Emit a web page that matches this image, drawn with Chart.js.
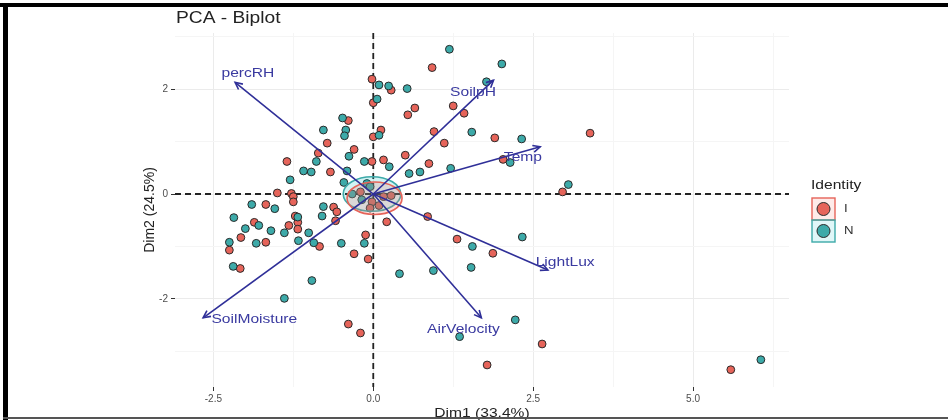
<!DOCTYPE html>
<html lang="en">
<head>
    <meta charset="UTF-8">
    <title>PCA - Biplot</title>
    <style>
        html, body { margin: 0; padding: 0; background: #fff; }
        #wrap { position: relative; width: 948px; height: 420px; }
    </style>
</head>
<body>
    <div id="wrap">
        <canvas id="myChart" width="948" height="420"></canvas>
    </div>

    <script src="https://cdn.jsdelivr.net/npm/chart.js"></script>
    <script>
        // Individuals, group I
        var iDim1 = [0.92, -0.02, 0.28, 0.00, 0.65, 0.54, 1.25, 1.42, -0.39, 0.12, 0.00, 0.95, -0.72, -0.30, -0.86, 1.11, 0.50, -1.35, -0.02, 0.16, 0.87, -0.67, -1.50, -1.28, -1.25, -1.25, -1.68, -0.62, -0.57, -1.22, 0.85, -0.20, 0.28, 0.16, -0.02, 0.09, -0.05, -0.59, -1.86, -1.32, -1.18, -1.18, -2.07, -2.25, -1.68, -0.84, -0.12, 0.21, -0.30, -0.08, -2.08, 1.31, -0.39, -0.20, 1.90, 3.39, 2.03, 2.96, 1.87, 2.64, 1.78, 5.59];
        var iDim2 = [2.41, 2.19, 1.98, 1.74, 1.64, 1.51, 1.68, 1.54, 1.40, 1.22, 1.09, 1.19, 0.97, 0.85, 0.78, 0.97, 0.74, 0.62, 0.62, 0.65, 0.58, 0.42, 0.02, 0.01, -0.05, -0.15, -0.20, -0.25, -0.34, -0.42, -0.43, 0.04, -0.03, -0.05, -0.15, -0.22, -0.27, -0.51, -0.54, -0.60, -0.54, -0.67, -0.83, -1.07, -0.92, -1.00, -0.78, -0.53, -1.14, -1.24, -1.42, -0.86, -2.48, -2.65, 1.07, 1.16, 0.66, 0.04, -1.13, -2.86, -3.26, -3.35];

        // Individuals, group N
        var nDim1 = [1.19, 0.09, 0.24, 0.53, 0.06, -0.48, -0.43, -0.45, -0.78, 0.09, 1.54, -0.38, -0.89, -0.14, 0.25, -1.09, -0.97, -0.41, 0.56, 0.73, 1.21, -1.30, -0.46, -1.90, -1.54, -2.18, -0.78, -0.80, -1.18, -0.33, -0.10, -0.05, -0.18, -1.79, -2.00, -1.60, -1.39, -1.01, -2.25, -1.83, -1.17, -0.93, -0.50, -0.14, -2.19, -0.96, 0.41, 0.94, 1.55, 1.53, -1.39, 1.35, 2.01, 1.77, 2.32, 2.14, 3.05, 2.33, 2.22, 6.06];
        var nDim2 = [2.76, 2.08, 2.06, 2.01, 1.81, 1.45, 1.22, 1.11, 1.22, 1.12, 1.18, 0.72, 0.62, 0.62, 0.52, 0.44, 0.42, 0.44, 0.39, 0.42, 0.49, 0.27, 0.22, -0.20, -0.28, -0.45, -0.24, -0.42, -0.44, 0.00, 0.20, 0.14, -0.11, -0.60, -0.66, -0.70, -0.74, -0.74, -0.92, -0.94, -0.89, -0.93, -0.94, -0.94, -1.38, -1.65, -1.52, -1.46, -1.00, -1.40, -1.99, -2.72, 2.48, 2.14, 1.05, 0.60, 0.18, -0.82, -2.40, -3.16];

        // Variable arrows
        var varNames = ['percRH', 'SoilpH', 'Temp', 'LightLux', 'AirVelocity', 'SoilMoisture'];
        var varDim1 = [-2.16, 1.88, 2.61, 2.73, 1.69, -2.66];
        var varDim2 = [2.13, 2.17, 0.90, -1.45, -2.36, -2.36];
        var labelDim1 = [-1.96, 1.56, 2.34, 3.00, 1.41, -1.86];
        var labelDim2 = [2.30, 1.94, 0.69, -1.30, -2.59, -2.40];

        // Concentration ellipses
        var groups = ['I', 'N'];
        var ellCx = [0.02, -0.02];
        var ellCy = [-0.08, 0.00];
        var ellRx = [0.43, 0.45];
        var ellRy = [0.31, 0.33];

        // Ticks
        var xTicks = [-2.5, -1.25, 0, 1.25, 2.5, 3.75, 5.0, 6.25];
        var xTickLabels = ['-2.5', '', '0.0', '', '2.5', '', '5.0', ''];
        var yTicks = [-3, -2, -1, 0, 1, 2, 3];
        var yTickLabels = ['', '-2', '', '0', '', '2', ''];

        var red = '#E6645A';
        var teal = '#3DAAA9';
        var navy = '#2F2F98';
        var font = '"Liberation Sans", Arial, sans-serif';
        var stretch = 1.2; // the picture is a bit wider than tall

        function pts(xs, ys) {
            var out = [];
            for (var i = 0; i < xs.length; i++) out.push({ x: xs[i], y: ys[i] });
            return out;
        }

        // text drawn a little wider, like the source screenshot
        function wideText(ctx, txt, x, y, align) {
            ctx.save();
            ctx.translate(x, y);
            ctx.scale(stretch, 1);
            ctx.textAlign = align;
            ctx.fillText(txt, 0, 0);
            ctx.restore();
        }

        var datasets = [
            {
                label: 'I', data: pts(iDim1, iDim2), order: 3,
                backgroundColor: red, borderColor: '#2a2a2a', borderWidth: 1, pointRadius: 3.9
            },
            {
                label: 'N', data: pts(nDim1, nDim2), order: 2,
                backgroundColor: teal, borderColor: '#2a2a2a', borderWidth: 1, pointRadius: 3.9
            }
        ];
        for (var k = 0; k < varNames.length; k++) {
            datasets.push({
                label: varNames[k], type: 'line', order: 1,
                data: [{ x: 0, y: 0 }, { x: varDim1[k], y: varDim2[k] }],
                borderColor: navy, borderWidth: 1.6, pointRadius: 0, showLine: true, fill: false
            });
        }

        function fixTicks(vals) {
            return function (scale) {
                scale.ticks = vals.map(function (v) { return { value: v }; });
            };
        }

        // ellipses drawn right after the points, before the arrows
        var ellipsePlugin = {
            id: 'ellipses',
            afterDatasetDraw: function (chart, args) {
                if (args.index !== 1) return;
                var ctx = chart.ctx, xs = chart.scales.x, ys = chart.scales.y;
                var cols = [red, teal];
                var fills = ['rgba(248,118,109,0.22)', 'rgba(0,191,196,0.18)'];
                ctx.save();
                for (var g = groups.length - 1; g >= 0; g--) {
                    var cx = xs.getPixelForValue(ellCx[g]);
                    var cy = ys.getPixelForValue(ellCy[g]);
                    var rx = Math.abs(xs.getPixelForValue(ellCx[g] + ellRx[g]) - cx);
                    var ry = Math.abs(ys.getPixelForValue(ellCy[g] + ellRy[g]) - cy);
                    ctx.beginPath();
                    ctx.ellipse(cx, cy, rx, ry, 0, 0, Math.PI * 2);
                    ctx.fillStyle = fills[g];
                    ctx.fill();
                    ctx.strokeStyle = cols[g];
                    ctx.lineWidth = 1.6;
                    ctx.stroke();
                }
                ctx.restore();
            }
        };

        var decorPlugin = {
            id: 'decor',
            beforeDatasetsDraw: function (chart) {
                var ctx = chart.ctx, a = chart.chartArea;
                var x0 = chart.scales.x.getPixelForValue(0);
                var y0 = chart.scales.y.getPixelForValue(0);
                ctx.save();
                ctx.strokeStyle = '#222';
                ctx.lineWidth = 1.8;
                ctx.setLineDash([6, 4]);
                ctx.beginPath();
                ctx.moveTo(a.left, y0); ctx.lineTo(a.right, y0);
                ctx.moveTo(x0, a.top); ctx.lineTo(x0, a.bottom);
                ctx.stroke();
                ctx.restore();
            },
            afterDatasetsDraw: function (chart) {
                var ctx = chart.ctx, xs = chart.scales.x, ys = chart.scales.y;
                ctx.save();
                // arrow heads and variable names
                ctx.strokeStyle = navy;
                ctx.lineWidth = 1.6;
                for (var k = 0; k < varNames.length; k++) {
                    var ox = xs.getPixelForValue(0), oy = ys.getPixelForValue(0);
                    var tx = xs.getPixelForValue(varDim1[k]), ty = ys.getPixelForValue(varDim2[k]);
                    var ang = Math.atan2(ty - oy, tx - ox);
                    var len = 8, spread = Math.PI / 7;
                    ctx.beginPath();
                    ctx.moveTo(tx - len * Math.cos(ang - spread), ty - len * Math.sin(ang - spread));
                    ctx.lineTo(tx, ty);
                    ctx.lineTo(tx - len * Math.cos(ang + spread), ty - len * Math.sin(ang + spread));
                    ctx.stroke();
                }
                ctx.fillStyle = '#3A3AA0';
                ctx.font = '13px ' + font;
                ctx.textBaseline = 'middle';
                for (var j = 0; j < varNames.length; j++) {
                    wideText(ctx, varNames[j], xs.getPixelForValue(labelDim1[j]), ys.getPixelForValue(labelDim2[j]), 'center');
                }
                ctx.restore();
            },
            afterDraw: function (chart) {
                var ctx = chart.ctx, a = chart.chartArea;
                ctx.save();
                // title and axis titles
                ctx.fillStyle = '#222';
                ctx.font = '16px ' + font;
                ctx.textBaseline = 'alphabetic';
                wideText(ctx, 'PCA - Biplot', 176, 23, 'left');
                ctx.font = '13px ' + font;
                wideText(ctx, 'Dim1 (33.4%)', (a.left + a.right) / 2, 417, 'center');
                ctx.font = '14px ' + font;
                ctx.translate(150, 210);
                ctx.rotate(-Math.PI / 2);
                ctx.textAlign = 'center';
                ctx.textBaseline = 'middle';
                ctx.fillText('Dim2 (24.5%)', 0, 0);
                ctx.restore();

                // legend
                ctx.save();
                ctx.fillStyle = '#222';
                ctx.font = '13px ' + font;
                ctx.textBaseline = 'middle';
                wideText(ctx, 'Identity', 811, 185, 'left');
                var cols = [red, teal];
                for (var g = 0; g < groups.length; g++) {
                    var by = 198 + g * 22;
                    ctx.fillStyle = g === 0 ? 'rgba(248,118,109,0.15)' : 'rgba(0,191,196,0.12)';
                    ctx.fillRect(812, by, 23, 22);
                    ctx.strokeStyle = cols[g];
                    ctx.lineWidth = 1.4;
                    ctx.strokeRect(812, by, 23, 22);
                    ctx.beginPath();
                    ctx.arc(823.5, by + 11, 6.5, 0, Math.PI * 2);
                    ctx.fillStyle = cols[g];
                    ctx.fill();
                    ctx.strokeStyle = '#2a2a2a';
                    ctx.lineWidth = 1;
                    ctx.stroke();
                    ctx.fillStyle = '#333';
                    ctx.font = '11px ' + font;
                    wideText(ctx, groups[g], 844, by + 11, 'left');
                }
                ctx.restore();

                // frame of the screenshot
                ctx.save();
                ctx.fillStyle = '#000';
                ctx.fillRect(0, 3, 948, 4);
                ctx.fillRect(3, 3, 5, 417);
                ctx.fillStyle = '#555';
                ctx.fillRect(3, 417, 945, 2);
                ctx.restore();
            }
        };

        var ctx = document.getElementById('myChart').getContext('2d');
        new Chart(ctx, {
            type: 'scatter',
            data: { datasets: datasets },
            plugins: [ellipsePlugin, decorPlugin],
            options: {
                responsive: false,
                animation: false,
                layout: { padding: { top: 33, right: 159, left: 0, bottom: 0 } },
                plugins: {
                    legend: { display: false },
                    tooltip: { enabled: false }
                },
                scales: {
                    x: {
                        type: 'linear', min: -3.1, max: 6.5,
                        afterBuildTicks: fixTicks(xTicks),
                        afterFit: function (scale) { scale.height = 33; },
                        border: { display: false },
                        grid: {
                            color: function (c) { return xTickLabels[c.index] ? '#EBEBEB' : '#F5F5F5'; },
                            tickColor: function (c) { return xTickLabels[c.index] ? '#333' : 'rgba(0,0,0,0)'; },
                            tickLength: 4
                        },
                        ticks: {
                            autoSkip: false, maxRotation: 0, padding: 2,
                            color: '#4D4D4D', font: { size: 10, family: font },
                            callback: function (v, i) { return xTickLabels[i]; }
                        }
                    },
                    y: {
                        type: 'linear', min: -3.68, max: 3.07,
                        afterBuildTicks: fixTicks(yTicks),
                        afterFit: function (scale) { scale.width = 175; },
                        border: { display: false },
                        grid: {
                            color: function (c) { return yTickLabels[c.index] ? '#EBEBEB' : '#F5F5F5'; },
                            tickColor: function (c) { return yTickLabels[c.index] ? '#333' : 'rgba(0,0,0,0)'; },
                            tickLength: 4
                        },
                        ticks: {
                            autoSkip: false, padding: 3,
                            color: '#4D4D4D', font: { size: 10, family: font },
                            callback: function (v, i) { return yTickLabels[i]; }
                        }
                    }
                }
            }
        });
    </script>
</body>
</html>
